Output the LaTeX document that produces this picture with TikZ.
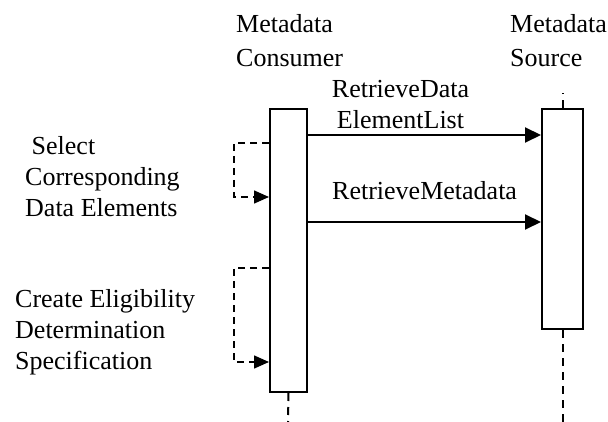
\documentclass[tikz,border=0pt]{standalone}
\usepackage{fontspec}
\setmainfont{Liberation Serif}
\usetikzlibrary{arrows.meta}

\tikzset{
  lbl/.style={inner sep=0pt, align=left, font=\fontsize{26}{31}\selectfont},
  actbox/.style={draw, line width=2pt, fill=white, inner sep=0pt},
  msg/.style={line width=2pt, -{Triangle[length=16pt,width=15pt]}},
  selfcall/.style={line width=1.5pt, dash pattern=on 7pt off 5pt, -{Triangle[length=15pt,width=13pt]}},
  lifeline/.style={line width=2pt, dash pattern=on 8pt off 6pt}
}

\begin{document}
\begin{tikzpicture}[x=1pt, y=-1pt]
\useasboundingbox (0,0) rectangle (608,422);

% lifeline heads
\node[lbl, anchor=base west, font=\fontsize{26}{34}\selectfont] (cons) at (236,67) {Metadata\\Consumer};
\node[lbl, anchor=base west, font=\fontsize{26}{34}\selectfont] (src) at (510,67) {Metadata\\Source};

% activation boxes
\node[actbox, minimum width=37pt, minimum height=283pt] (consbox) at (288.5,250.5) {};
\node[actbox, minimum width=41pt, minimum height=220pt] (srcbox) at (562.5,219) {};

% lifelines
\coordinate (consend) at (288,422);
\coordinate (srcend) at (562.5,422);
\coordinate (srctop) at (562.5,93);
\draw[lifeline] (consbox.south) -- (consend);
\draw[lifeline] (srcbox.south) -- (srcend);
\draw[lifeline] (srcbox.north) -- (srctop);

% messages
\draw[msg] (consbox.east |- 0,135) -- (srcbox.west |- 0,135);
\draw[msg] (consbox.east |- 0,222) -- (srcbox.west |- 0,222);
\node[lbl, anchor=base, align=center] (m1) at (400.5,129) {RetrieveData\\ElementList};
\node[lbl, anchor=base west] (m2) at (332,200) {RetrieveMetadata};

% self calls
\draw[selfcall] (consbox.west |- 0,143) -- ++(-35,0) |- (consbox.west |- 0,197);
\draw[selfcall] (consbox.west |- 0,268) -- ++(-35,0) |- (consbox.west |- 0,362);
\node[lbl, anchor=base west] (s1) at (25,217) {\hspace{0.25em}Select\\Corresponding\\Data Elements};
\node[lbl, anchor=base west] (s2) at (15,369) {Create Eligibility\\Determination\\Specification};
\end{tikzpicture}
\end{document}
